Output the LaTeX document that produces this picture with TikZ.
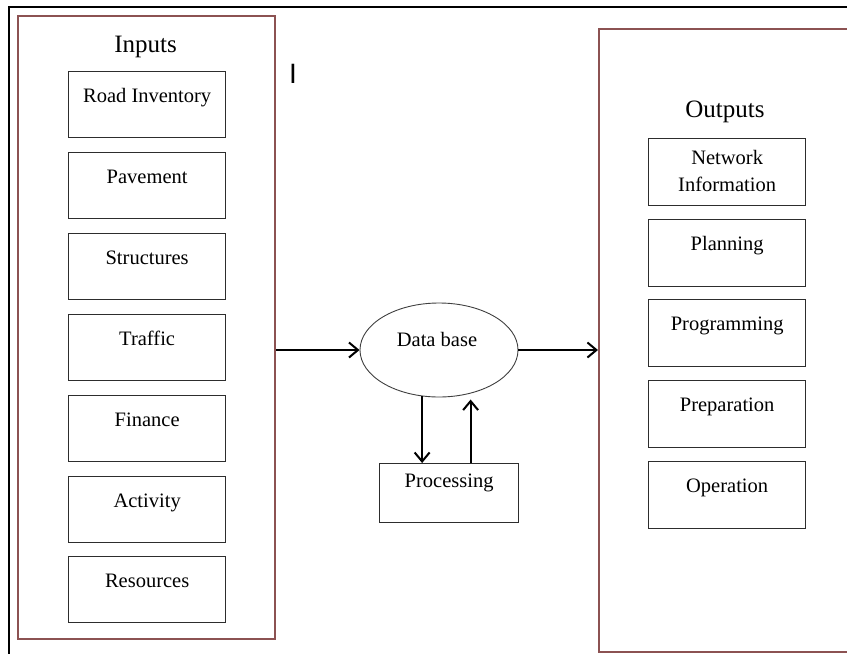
\documentclass[tikz,border=0pt]{standalone}
\usepackage{fontspec}
\setmainfont{Liberation Serif}
\newfontfamily\cursorfont{Liberation Sans}
\usetikzlibrary{shapes.geometric,arrows.meta}
\definecolor{framebrown}{RGB}{140,82,82}
\definecolor{boxline}{RGB}{45,45,45}
\tikzset{
  outerbox/.style={draw=framebrown, line width=2.4pt, anchor=north west, inner sep=0pt},
  itembox/.style={draw=boxline, line width=1.3pt, anchor=north west, inner sep=0pt,
    minimum width=157pt, minimum height=66pt, text height=31pt, text depth=35pt,
    align=center, font=\fontsize{20.5}{27}\selectfont},
  titletxt/.style={anchor=base, inner sep=0pt, font=\fontsize{25}{30}\selectfont},
  bodytxt/.style={anchor=base, inner sep=0pt, font=\fontsize{20.5}{27}\selectfont},
  arr/.style={draw=black, line width=2pt, -{Straight Barb[length=9pt,width=15pt,line width=2pt]}}
}
\begin{document}
\begin{tikzpicture}[x=1pt,y=-1pt]
\useasboundingbox (0,0) rectangle (847,654);
% page frame
\coordinate (ftl) at (9,7);
\coordinate (ftr) at (847,7);
\coordinate (fbl) at (9,654);
\draw[line width=1.2pt] (fbl) -- (ftl) -- (ftr);
% outer boxes
\node[outerbox, minimum width=257pt, minimum height=623pt] (inbox) at (17,15) {};
\node[outerbox, minimum width=280pt, minimum height=623pt] (outbox) at (598,28) {};
\node[titletxt] (intitle) at (145.5,52) {Inputs};
\node[titletxt] (outtitle) at (725,117) {Outputs};
% cursor mark
\node[anchor=base, inner sep=0pt, font=\cursorfont\fontsize{28}{30}\selectfont] (cursor) at (293,83) {I};
% input items
\node[itembox] (i1) at (68,71) {Road Inventory};
\node[itembox] (i2) at (68,152) {Pavement};
\node[itembox] (i3) at (68,233) {Structures};
\node[itembox] (i4) at (68,314) {Traffic};
\node[itembox] (i5) at (68,395) {Finance};
\node[itembox] (i6) at (68,476) {Activity};
\node[itembox] (i7) at (68,556) {Resources};
% output items
\node[itembox, minimum height=67pt, text height=53pt, text depth=14pt] (o1) at (648,138) {Network\\Information};
\node[itembox, minimum height=67pt, text depth=36pt] (o2) at (648,219) {Planning};
\node[itembox, minimum height=67pt, text depth=36pt] (o3) at (648,299) {Programming};
\node[itembox, minimum height=67pt, text depth=36pt] (o4) at (648,380) {Preparation};
\node[itembox, minimum height=67pt, text depth=36pt] (o5) at (648,461) {Operation};
% database
\node[ellipse, draw=black!75, line width=0.9pt, minimum width=158pt, minimum height=94pt, inner sep=0pt] (db) at (439,350) {};
\node[bodytxt] (dbtxt) at (437,346) {Data base};
% processing
\node[itembox, minimum width=139pt, minimum height=59pt, text height=24pt, text depth=35pt] (proc) at (379,463) {Processing};
% connectors
\draw[arr] (inbox.east |- db.west) -- (db.west);
\draw[arr] (db.east) -- (db.east -| outbox.west);
\draw[arr] (db.250) -- (db.250 |- proc.north);
\draw[arr, shorten >=6pt] (proc.north -| db.306) -- (db.306);
\end{tikzpicture}
\end{document}
